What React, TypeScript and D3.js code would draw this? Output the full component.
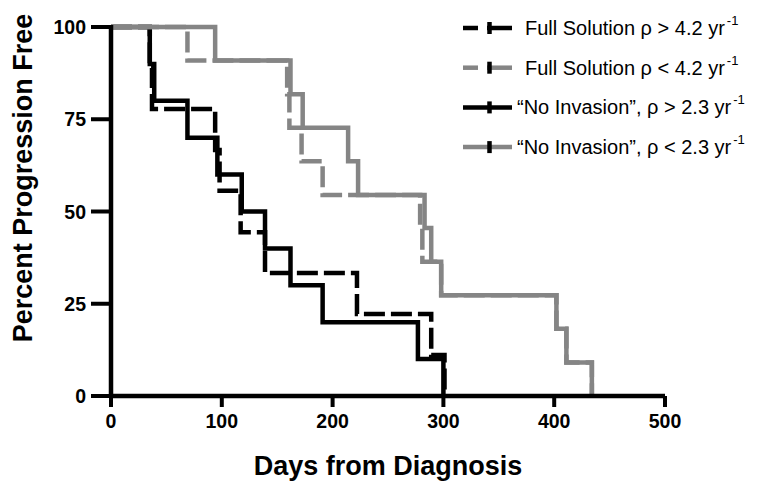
import * as d3 from "d3";

// Kaplan-Meier step points: day of each drop and the percent after it
const fullHighDays = [0, 35, 37, 94, 98, 117, 139, 222, 289, 301];
const fullHighPct = [100, 88.9, 77.8, 66.7, 55.6, 44.4, 33.3, 22.2, 11.1, 0];

const noInvHighDays = [0, 35, 39, 69, 96, 118, 139, 162, 191, 277, 300];
const noInvHighPct = [100, 90, 80, 70, 60, 50, 40, 30, 20, 10, 0];

const fullLowDays = [0, 69, 159, 161, 172, 191, 279, 281, 298, 402, 411, 434];
const fullLowPct = [100, 90.9, 81.8, 72.7, 63.6, 54.5, 45.5, 36.4, 27.3, 18.2, 9.1, 0];

const noInvLowDays = [0, 94, 162, 173, 214, 223, 283, 289, 298, 402, 411, 434];
const noInvLowPct = [100, 90.9, 81.8, 72.7, 63.6, 54.5, 45.5, 36.4, 27.3, 18.2, 9.1, 0];

const xTicks = [0, 100, 200, 300, 400, 500];
const yTicks = [0, 25, 50, 75, 100];

const legendLabels = [
  "Full Solution \u03c1 > 4.2 yr",
  "Full Solution \u03c1 < 4.2 yr",
  "\u201cNo Invasion\u201d, \u03c1 > 2.3 yr",
  "\u201cNo Invasion\u201d, \u03c1 < 2.3 yr",
];

const BLACK = "#000";
const GREY = "#858585";
const FONT = "'Liberation Sans', Arial, Helvetica, sans-serif";

const series = [
  { days: fullHighDays, pct: fullHighPct, color: BLACK, dashed: true },
  { days: noInvHighDays, pct: noInvHighPct, color: BLACK, dashed: false },
  { days: fullLowDays, pct: fullLowPct, color: GREY, dashed: true },
  { days: noInvLowDays, pct: noInvLowPct, color: GREY, dashed: false },
];
const legendOrder = [0, 2, 1, 3];

export default function App() {
  const x = d3.scaleLinear().domain([0, 500]).range([111, 665]);
  const y = d3.scaleLinear().domain([0, 100]).range([396, 27]);

  const line = d3
    .line<[number, number]>()
    .x((d) => x(d[0]))
    .y((d) => y(d[1]))
    .curve(d3.curveStepAfter);

  return (
    <svg
      width={783}
      height={487}
      style={{ position: "absolute", left: 0, top: 0, background: "#fff" }}
      fontFamily={FONT}
    >
      {/* curves */}
      {series.map((s, i) => (
        <path
          key={i}
          d={line(s.days.map((d, j) => [d, s.pct[j]] as [number, number])) || ""}
          fill="none"
          stroke={s.color}
          strokeWidth={4.5}
          strokeDasharray={s.dashed ? "21 6" : undefined}
        />
      ))}

      {/* axes */}
      <line x1={x(0)} x2={x(500)} y1={y(0)} y2={y(0)} stroke="#000" strokeWidth={4.5} />
      <line x1={x(0)} x2={x(0)} y1={y(0) + 2} y2={y(100) - 2} stroke="#000" strokeWidth={4.5} />
      {xTicks.map((t) => (
        <g key={"x" + t}>
          <line x1={x(t)} x2={x(t)} y1={y(0)} y2={y(0) + 11} stroke="#000" strokeWidth={4} />
          <text x={x(t)} y={428} textAnchor="middle" fontSize={19.5} fontWeight="bold">
            {t}
          </text>
        </g>
      ))}
      {yTicks.map((t) => (
        <g key={"y" + t}>
          <line x1={x(0) - 20} x2={x(0)} y1={y(t)} y2={y(t)} stroke="#000" strokeWidth={4} />
          <text x={86} y={y(t) + 7} textAnchor="end" fontSize={19.5} fontWeight="bold">
            {t}
          </text>
        </g>
      ))}

      {/* axis titles */}
      <text x={388} y={475} textAnchor="middle" fontSize={27} fontWeight="bold">
        Days from Diagnosis
      </text>
      <text
        transform={`translate(32,178) rotate(-90)`}
        textAnchor="middle"
        fontSize={27}
        fontWeight="bold"
      >
        Percent Progression Free
      </text>

      {/* legend */}
      {legendLabels.map((lab, i) => {
        const s = series[legendOrder[i]];
        const cy = 28 + i * 39.7;
        const tx = lab.startsWith("\u201c") ? 517 : 525;
        return (
          <g key={"l" + i}>
            {s.dashed ? (
              <>
                <line x1={463} x2={478} y1={cy} y2={cy} stroke={s.color} strokeWidth={4.5} />
                <line x1={487} x2={512} y1={cy} y2={cy} stroke={s.color} strokeWidth={4.5} />
              </>
            ) : (
              <line x1={463} x2={512} y1={cy} y2={cy} stroke={s.color} strokeWidth={4.5} />
            )}
            <line x1={489.5} x2={489.5} y1={cy - 6} y2={cy + 6} stroke={BLACK} strokeWidth={4.5} />
            <text x={tx} y={cy + 7} fontSize={20}>
              {lab}
              <tspan dx={2} dy={-10} fontSize={13}>
                -1
              </tspan>
            </text>
          </g>
        );
      })}
    </svg>
  );
}
